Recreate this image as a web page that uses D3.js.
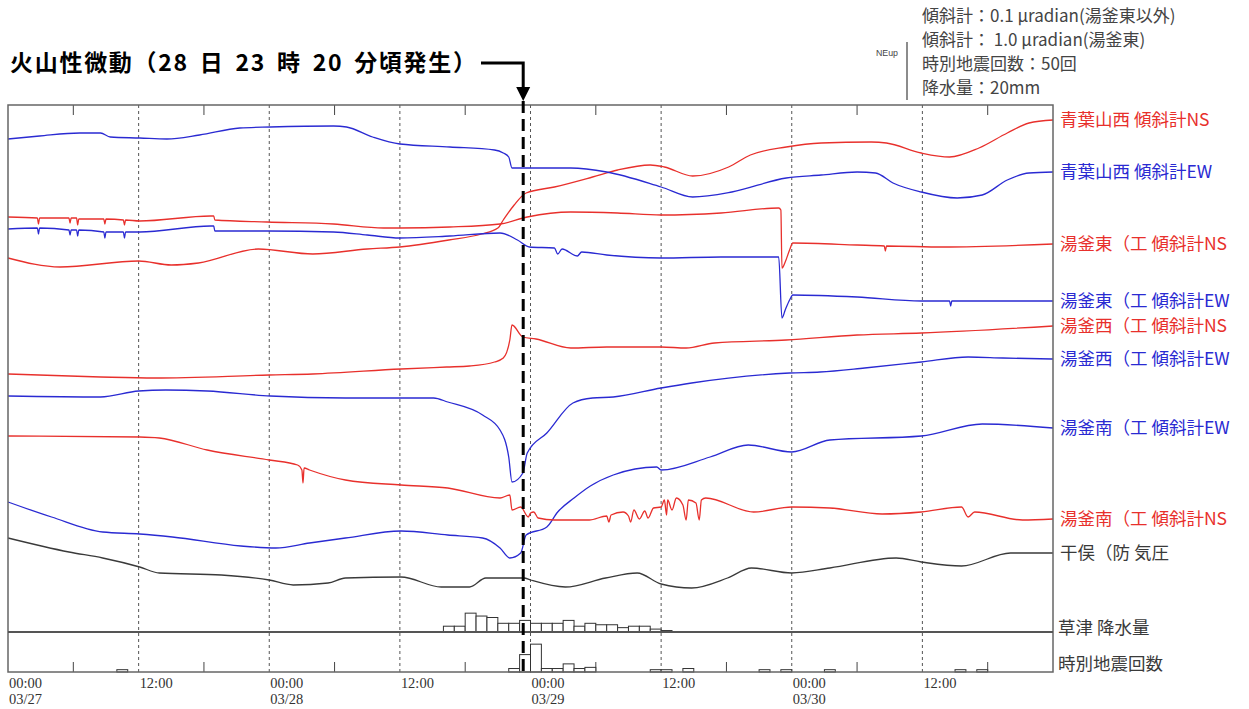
<!DOCTYPE html>
<html lang="ja">
<head>
<meta charset="UTF-8">
<title>湯釜 傾斜計</title>
<script src="https://cdn.jsdelivr.net/npm/d3@7"></script>
<style>
  body { margin: 0; background: #fff; }
  svg { display: block; font-family: "Noto Sans CJK JP", sans-serif; }
</style>
</head>
<body>
<div id="chart"></div>
<script>
// time = hours from 03/27 00:00, value = trace offset (arbitrary units)
const aobaNS = [[0,342],[4.8,333],[12,339],[15,335],[17.5,337],[23,351],[28,346],[33,351],[36,353],[40.5,360],[43.5,366],[45,372],[45.5,380],[46.5,395],[47.6,407],[50.2,413],[53.7,423],[56,430],[59,435],[60.3,433],[62.9,424],[66.2,433],[68.2,445],[71.5,453],[74.7,457],[79.3,458],[80.7,457],[83.9,447],[86.5,443],[89.2,452],[91.8,467],[93.8,477],[96,480]];
const aobaEW = [[0,461],[2.9,464],[6.6,467],[8.5,467],[9.4,463],[12.1,462],[14.6,461],[17.6,465],[21.3,472],[24.1,473],[29.9,474],[31.1,473],[33.5,463],[36,456],[40.6,453],[44.7,450],[45.5,447],[46,443],[46.3,432],[51.7,432],[55,428],[60,413],[62.9,403],[66.5,408],[71.5,422],[74.7,425],[78,428],[79.7,427],[81.3,417],[83.9,408],[87.2,402],[89.5,405],[91.8,420],[93.8,427],[96,428]];
const eastNS = [[0,383],[2.7,382],[2.8,376],[2.9,382],[5.6,382],[5.7,377],[5.8,382],[6.3,382],[6.4,375],[6.5,381],[8.8,381],[8.9,376],[9,381],[10.6,380],[10.7,375],[10.8,380],[12.1,379],[18.6,384],[18.9,384],[19,380],[23.8,378],[29.9,376],[34.5,372],[36,372],[40.6,373],[45.2,376],[47.7,383],[51.7,388],[56,387],[60,385],[65.5,387],[70.8,392],[71,390],[71.1,332],[71.4,338],[71.8,350],[72.1,357],[78,355],[80.5,354],[80.6,349],[80.7,354],[85.9,353],[96,356]];
const eastEW = [[0,371],[2.7,372],[2.8,366],[2.9,372],[5.6,370],[5.7,365],[5.8,370],[6.3,370],[6.4,364],[6.5,370],[8.8,368],[8.9,362],[9,368],[10.6,368],[10.7,362],[10.8,368],[12.1,368],[18.6,374],[18.9,374],[19,369],[23.8,369],[29.9,368],[33,365],[36,362],[40.6,364],[45.2,367],[46.8,360],[47.9,353],[50.2,352],[50.5,346],[50.9,351],[52.3,344],[52.7,348],[55,345],[60,342],[65.5,343],[70.8,343],[71.1,282],[71.4,290],[71.8,300],[72.1,305],[78,303],[83.9,299],[86.5,299],[86.6,294],[86.7,299],[96,299]];
const westNS = [[0,226],[8.5,223],[13.5,222],[24,225],[28,226],[36.1,231],[40.3,233],[42.4,234],[44.7,238],[45.5,242],[46.1,260],[46.3,275],[47.3,263],[48.5,261],[51.7,252],[55,253],[60,253],[62.3,252],[64.9,257],[71.5,260],[78,265],[83.9,267],[96,274]];
const westEW = [[0,204],[8.5,203],[12,209],[14.5,210],[18.3,209],[24.1,204],[31,202],[36.1,202],[39.1,202],[40.4,198],[43.6,185],[45.2,170],[46,143],[46.3,118],[47.3,127],[47.7,147],[49.5,167],[51.9,197],[53.7,202],[55.6,203],[60,212],[62.8,217],[71.8,227],[74.6,228],[78.7,232],[83.9,238],[88.2,243],[91.4,242],[96,241]];
const southEW = [[0,98],[4,83],[8.7,68],[12.1,66],[15.1,63],[21.4,54],[24.6,52],[27.7,57],[31,62],[36.1,69],[40.4,65],[43.6,62],[45.2,52],[46.1,42],[47.1,47],[47.6,65],[49.5,73],[50.5,88],[52,102],[53.5,114],[55.6,125],[59.6,133],[60,130],[64.5,143],[68,155],[72,148],[75.5,160],[83.9,164],[89.5,176],[96,172]];
const southNS = [[0,164],[12.1,163],[13.9,162],[18.3,150],[24,140],[26.6,135],[27,130],[27.1,117],[27.2,132],[27.7,130],[31,120],[36.1,115],[40.4,112],[45.2,102],[46.1,105],[46.3,90],[47.1,93],[47.8,83],[48,87],[48.3,88],[48.7,82],[50.2,80],[53.4,80],[55,84],[55.2,78],[55.4,85],[56.5,88],[57,84],[57.2,78],[57.5,90],[58,81],[58.5,89],[58.8,82],[59.3,92],[60,93],[60.3,100],[60.5,85],[60.6,100],[61,90],[61.4,102],[62,95],[62.3,80],[62.5,100],[63.2,97],[63.5,80],[63.7,100],[64.1,102],[68.5,88],[72,93],[75.5,92],[80.3,86],[83.9,88],[87.6,93],[88.2,83],[88.8,88],[93.2,80],[96,81]];
const pressure = [[0,62],[5.6,48],[8.7,42],[12.1,33],[13.9,27],[19.6,25],[24,20],[26.2,15],[29.4,17],[31,22],[36.1,23],[39.8,13],[42.4,13],[43.9,22],[47.4,22],[48,20],[51.2,13],[54.9,22],[57.8,27],[60,16],[62.8,12],[66.1,22],[68.3,32],[72,27],[75.5,32],[81.6,42],[83.9,38],[87.6,34],[92.1,47],[96,47]];

const traceNames = ["青葉山西 傾斜計NS", "青葉山西 傾斜計EW", "湯釜東（工 傾斜計NS", "湯釜東（工 傾斜計EW",
  "湯釜西（工 傾斜計NS", "湯釜西（工 傾斜計EW", "湯釜南（工 傾斜計EW", "湯釜南（工 傾斜計NS", "干俣（防 気圧"];

// hourly rainfall (mm) at 草津, hour start
const rainHours = [40,41,42,43,44,45,46,47,48,49,50,51,52,53,54,55,56,57,58,59,60];
const rainMm = [2,2,6.5,5.5,5,3,3,4,3,3,3,4,2,3,2.5,2.5,1.5,2,2,1,0.5];
// hourly earthquake counts
const quakeHours = [10,46,47,48,49,50,51,52,53,59,60,62,69,71,75,87,89];
const quakeCounts = [2,3,15,24,3,3,7,3,4,2,2,3,2,2,2,2,2];

const tickHours = [0,12,24,36,48,60,72,84];
const tickTimes = ["00:00","12:00","00:00","12:00","00:00","12:00","00:00","12:00"];
const tickDates = ["03/27","","03/28","","03/29","","03/30",""];
const eventHour = 47.33;
const eventText = "火山性微動（28 日 23 時 20 分頃発生）";
const legendLines = ["傾斜計：0.1 μradian(湯釜東以外)", "傾斜計： 1.0 μradian(湯釜東)", "時別地震回数：50回", "降水量：20mm"];

const width = 1249, height = 709;
const plotL = 8, plotR = 1053, plotT = 105, plotB = 672, rainBase = 632;
const RED = "#e8302c", BLUE = "#2a2ad2", BLACK = "#3a3a3a";
const traceColors = [RED, BLUE, RED, BLUE, RED, BLUE, BLUE, RED, BLACK];
const traces = [aobaNS, aobaEW, eastNS, eastEW, westNS, westEW, southEW, southNS, pressure];

const svg = d3.select("#chart").append("svg")
  .attr("width", width).attr("height", height);

const x = d3.scaleLinear().domain([0, 96]).range([plotL, plotR]);
const y = d3.scaleLinear().domain([0, 495]).range([600, plotT]);
const yRain = d3.scaleLinear().domain([0, 20]).range([rainBase, rainBase - 58]);
const yQuake = d3.scaleLinear().domain([0, 50]).range([plotB, plotB - 58]);

// dashed grid every 12 h
svg.append("g").selectAll("line")
  .data(tickHours.filter(h => h > 0))
  .enter().append("line")
  .attr("x1", d => x(d)).attr("x2", d => x(d))
  .attr("y1", plotT).attr("y2", plotB)
  .attr("stroke", "#555").attr("stroke-width", 1)
  .attr("stroke-dasharray", "3,3");

// 6 h minor ticks top and bottom
const minor = d3.range(6, 96, 12);
svg.append("g").selectAll("line")
  .data(minor).enter().append("line")
  .attr("x1", d => x(d)).attr("x2", d => x(d))
  .attr("y1", plotT).attr("y2", plotT + 10)
  .attr("stroke", "#444");
svg.append("g").selectAll("line")
  .data(minor).enter().append("line")
  .attr("x1", d => x(d)).attr("x2", d => x(d))
  .attr("y1", plotB).attr("y2", plotB - 10)
  .attr("stroke", "#444");

// rain bars
svg.append("g").selectAll("rect")
  .data(rainHours.map((h, i) => [h, rainMm[i]]))
  .enter().append("rect")
  .attr("x", d => x(d[0]))
  .attr("width", d => x(d[0] + 1) - x(d[0]))
  .attr("y", d => yRain(d[1]))
  .attr("height", d => rainBase - yRain(d[1]))
  .attr("fill", "#fff").attr("stroke", "#333").attr("stroke-width", 1);

// quake bars
svg.append("g").selectAll("rect")
  .data(quakeHours.map((h, i) => [h, quakeCounts[i]]))
  .enter().append("rect")
  .attr("x", d => x(d[0]))
  .attr("width", d => x(d[0] + 1) - x(d[0]))
  .attr("y", d => yQuake(d[1]))
  .attr("height", d => plotB - yQuake(d[1]))
  .attr("fill", "#fff").attr("stroke", "#333").attr("stroke-width", 1);

// traces
const line = d3.line().curve(d3.curveMonotoneX).x(d => x(d[0])).y(d => y(d[1]));
svg.append("g").selectAll("path")
  .data(traces).enter().append("path")
  .attr("d", line)
  .attr("fill", "none")
  .attr("stroke", (d, i) => traceColors[i])
  .attr("stroke-width", 1.3)
  .attr("stroke-linejoin", "round");

// frame + rain baseline
svg.append("rect")
  .attr("x", plotL).attr("y", plotT)
  .attr("width", plotR - plotL).attr("height", plotB - plotT)
  .attr("fill", "none").attr("stroke", "#666").attr("stroke-width", 1.5);
svg.append("line")
  .attr("x1", plotL).attr("x2", plotR)
  .attr("y1", rainBase).attr("y2", rainBase)
  .attr("stroke", "#555").attr("stroke-width", 1.8);

// event line and annotation
const ex = x(eventHour);
svg.append("line")
  .attr("x1", ex).attr("x2", ex)
  .attr("y1", plotT - 4).attr("y2", plotB)
  .attr("stroke", "#000").attr("stroke-width", 3)
  .attr("stroke-dasharray", "12,6");
svg.append("path")
  .attr("d", `M481,63 H${ex} V89`)
  .attr("fill", "none").attr("stroke", "#000").attr("stroke-width", 3);
svg.append("path")
  .attr("d", `M${ex - 7},87 L${ex + 7},87 L${ex},101 Z`)
  .attr("fill", "#000");
svg.append("text")
  .attr("x", 10).attr("y", 71)
  .attr("font-size", 23).attr("font-weight", "bold")
  .attr("word-spacing", 4)
  .attr("textLength", 466).attr("lengthAdjust", "spacing")
  .text(eventText);

// right labels
svg.append("g").selectAll("text")
  .data(traces).enter().append("text")
  .attr("x", 1060)
  .attr("y", d => y(d[d.length - 1][1]))
  .attr("dy", "0.35em")
  .attr("font-size", 17.5)
  .attr("fill", (d, i) => traceColors[i])
  .text((d, i) => traceNames[i]);
svg.append("text").attr("x", 1058).attr("y", rainBase - 4).attr("dy", "0.35em")
  .attr("font-size", 17.5).attr("fill", BLACK).text("草津 降水量");
svg.append("text").attr("x", 1058).attr("y", plotB - 8).attr("dy", "0.35em")
  .attr("font-size", 17.5).attr("fill", BLACK).text("時別地震回数");

// time axis labels
const ax = svg.append("g").attr("font-family", "Liberation Serif").attr("fill", "#333");
ax.selectAll("text.t").data(tickHours).enter().append("text")
  .attr("class", "t")
  .attr("x", d => x(d) + 1).attr("y", 688)
  .attr("font-size", 14.5).attr("textLength", 33).attr("lengthAdjust", "spacingAndGlyphs")
  .text((d, i) => tickTimes[i]);
ax.selectAll("text.d").data(tickHours.filter((d, i) => tickDates[i])).enter().append("text")
  .attr("class", "d")
  .attr("x", d => x(d) + 1).attr("y", 704)
  .attr("font-size", 14.5).attr("textLength", 33).attr("lengthAdjust", "spacingAndGlyphs")
  .text(d => tickDates[tickHours.indexOf(d)]);

// legend
svg.append("line").attr("x1", 907).attr("x2", 907).attr("y1", 42).attr("y2", 100)
  .attr("stroke", "#666").attr("stroke-width", 1.5);
svg.append("text").attr("x", 876).attr("y", 56).attr("font-size", 9)
  .attr("font-family", "Liberation Sans").attr("fill", "#444")
  .attr("textLength", 22).attr("lengthAdjust", "spacingAndGlyphs").text("NEup");
svg.append("g").selectAll("text")
  .data(legendLines).enter().append("text")
  .attr("x", 922).attr("y", (d, i) => 16 + i * 24)
  .attr("dy", "0.35em")
  .attr("font-size", 17).attr("fill", "#444")
  .text(d => d);
</script>
</body>
</html>
